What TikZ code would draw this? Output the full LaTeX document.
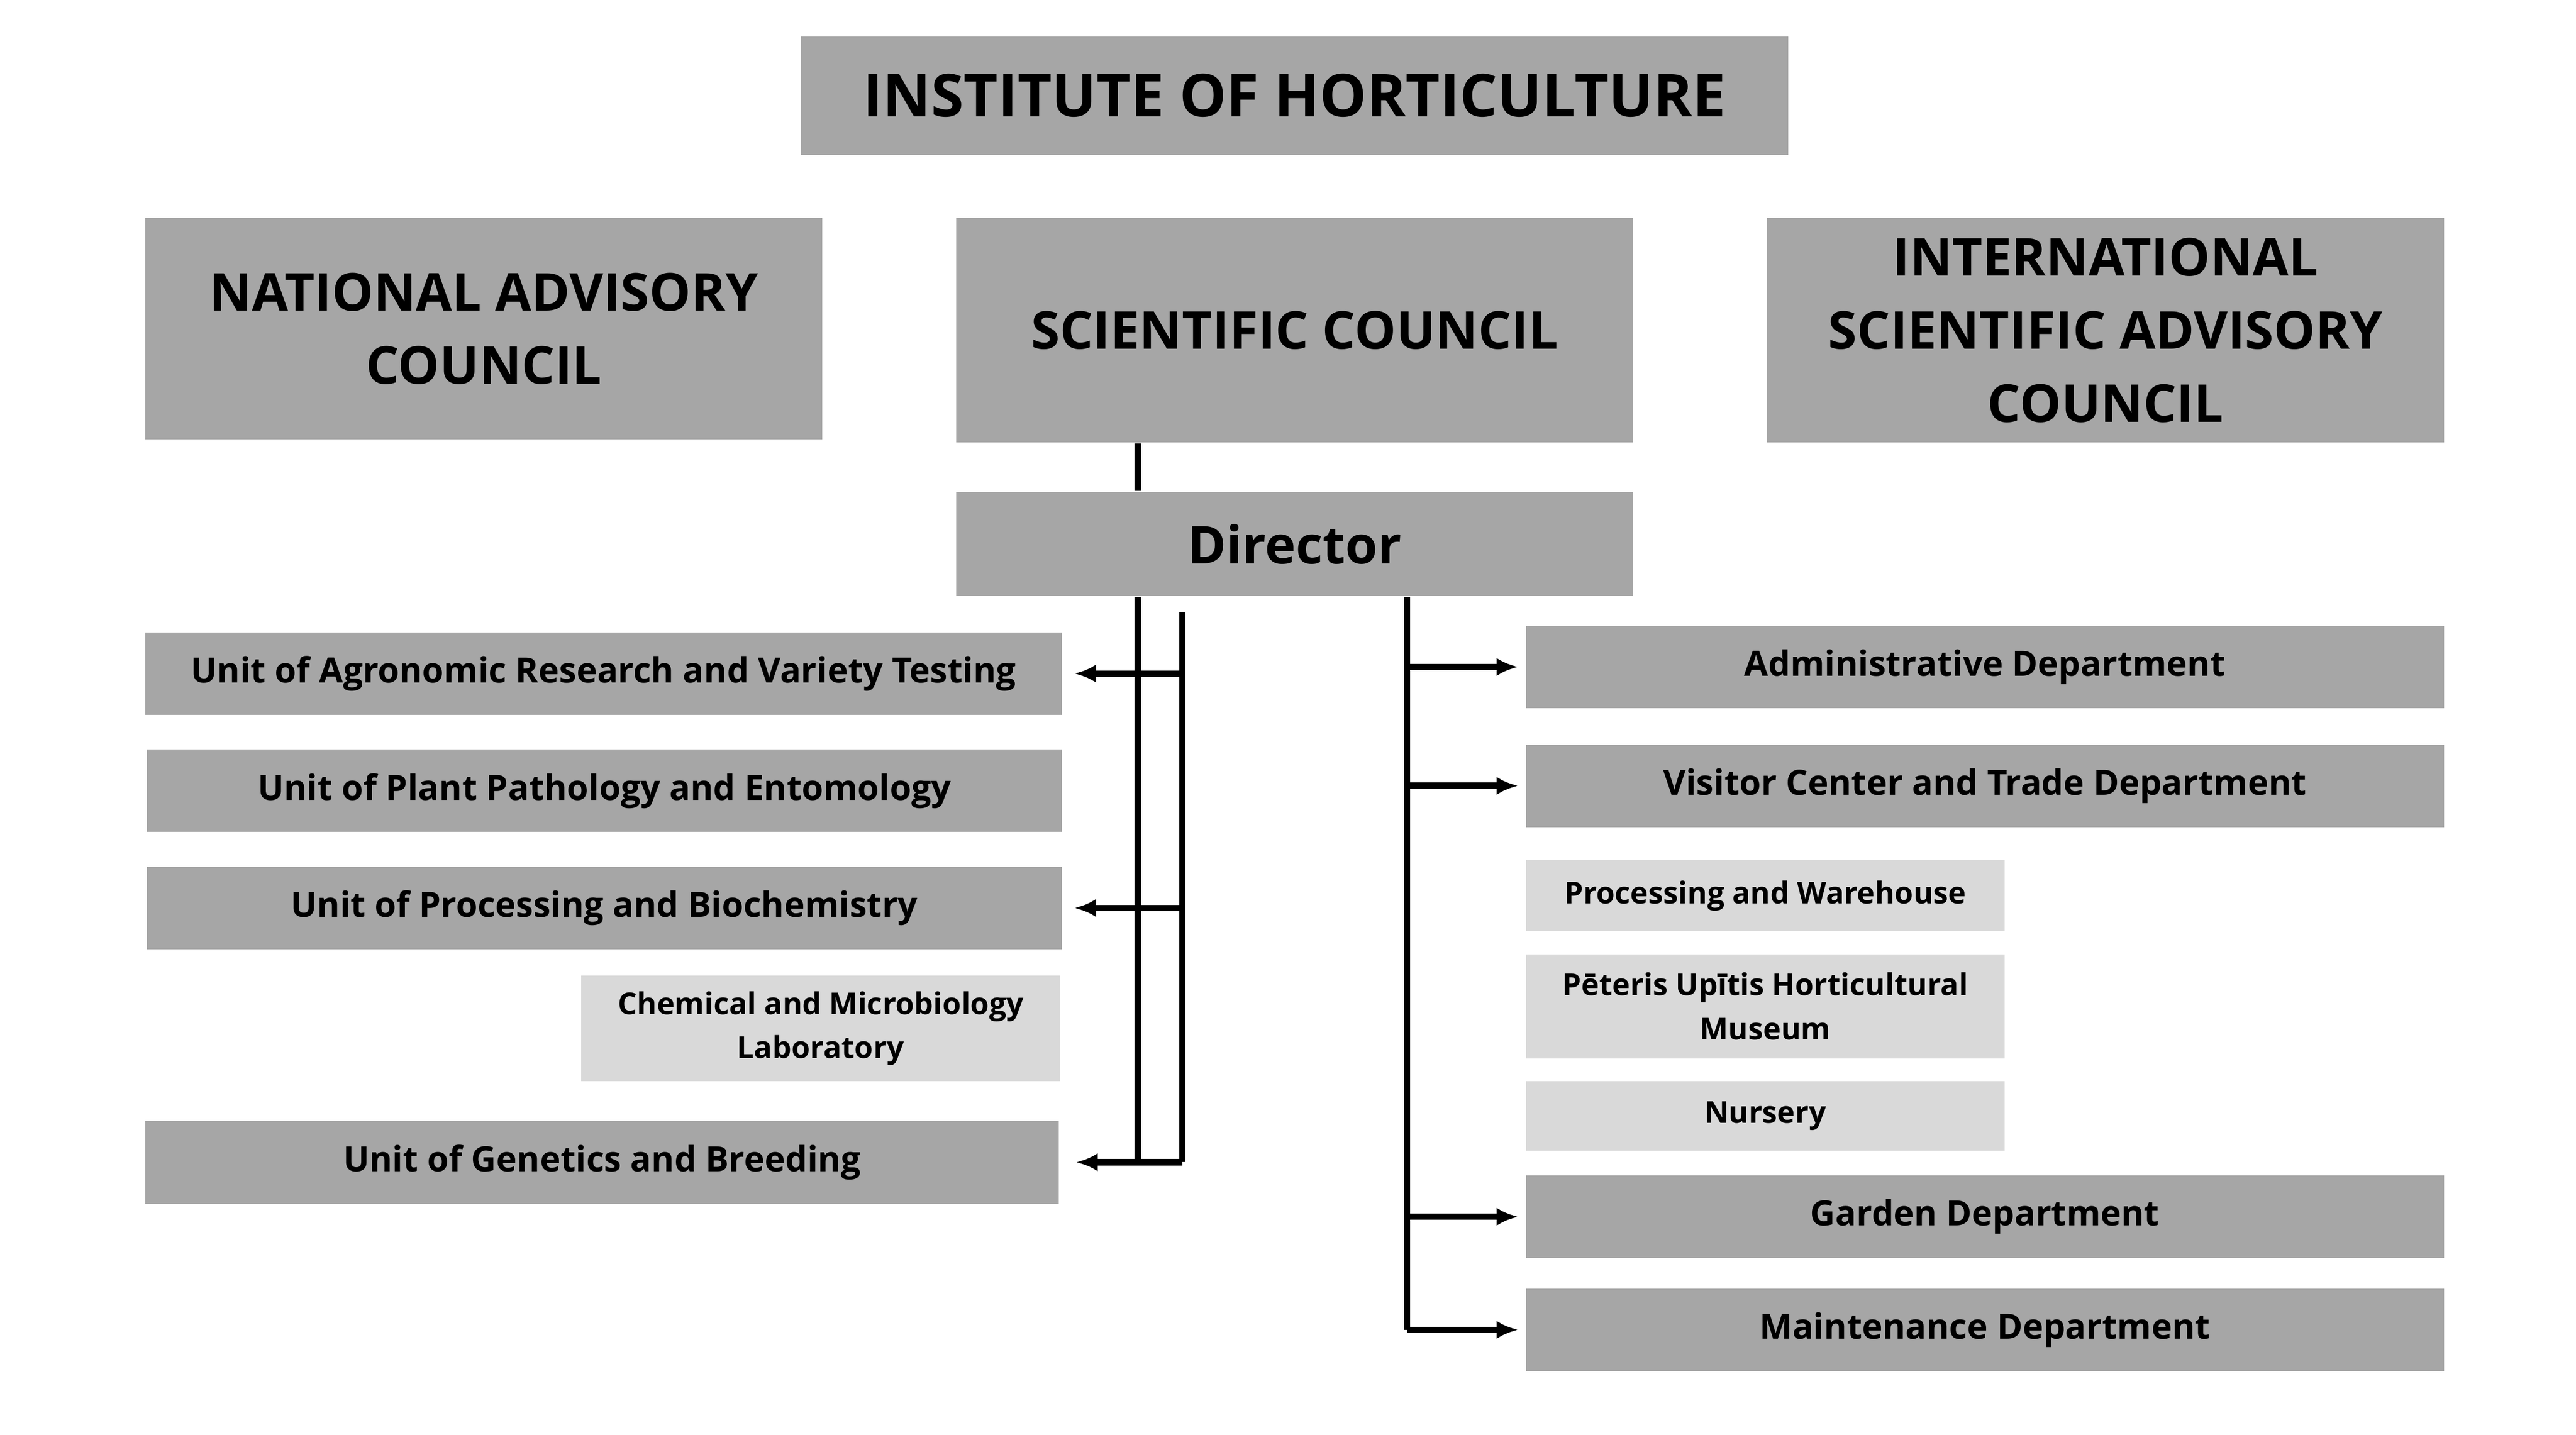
\documentclass[tikz,border=0pt]{standalone}
\usepackage{fontspec}
\setmainfont{Open Sans}
\usetikzlibrary{arrows.meta}
\definecolor{boxdark}{HTML}{A6A6A6}
\definecolor{boxlight}{HTML}{D9D9D9}
\tikzset{
  darkbox/.style={fill=boxdark, inner sep=0pt, align=center, font=\bfseries},
  lightbox/.style={fill=boxlight, inner sep=0pt, align=center, font=\bfseries\fontsize{5.2}{7.6}\selectfont},
  unit/.style={darkbox, minimum height=5mm, font=\bfseries\fontsize{6}{7}\selectfont},
  council/.style={darkbox, minimum width=41mm, font=\bfseries\fontsize{9}{12.6}\selectfont},
  link/.style={line width=1.1pt},
  arrow/.style={link, -{Latex[length=1.3mm,width=1.1mm]}}
}
\begin{document}
\begin{tikzpicture}
\useasboundingbox (0,0) rectangle (15.6,-8.69);
\node[darkbox, minimum width=59.8mm, minimum height=7.2mm, font=\bfseries\fontsize{10.2}{12}\selectfont] (inst) at (7.84,-0.58) {INSTITUTE OF HORTICULTURE};
\node[council, minimum height=13.4mm] (nat) at (2.93,-1.99) {NATIONAL ADVISORY\\COUNCIL};
\node[council, minimum height=13.6mm] (sci) at (7.84,-2.00) {SCIENTIFIC COUNCIL};
\node[council, minimum height=13.6mm] (intl) at (12.75,-2.00) {INTERNATIONAL\\SCIENTIFIC ADVISORY\\COUNCIL};
\node[council, minimum height=6.3mm] (dir) at (7.84,-3.295) {Director};
% left units
\node[unit, minimum width=55.5mm] (agro) at (3.655,-4.08) {Unit of Agronomic Research and Variety Testing};
\node[unit, minimum width=55.4mm] (plant) at (3.66,-4.79) {Unit of Plant Pathology and Entomology};
\node[unit, minimum width=55.4mm] (proc) at (3.66,-5.50) {Unit of Processing and Biochemistry};
\node[lightbox, minimum width=29mm, minimum height=6.4mm] (chem) at (4.97,-6.23) {Chemical and Microbiology\\Laboratory};
\node[unit, minimum width=55.3mm] (gen) at (3.645,-7.04) {Unit of Genetics and Breeding};
% right departments
\node[unit, minimum width=55.6mm] (adm) at (12.02,-4.04) {Administrative Department};
\node[unit, minimum width=55.6mm] (vis) at (12.02,-4.76) {Visitor Center and Trade Department};
\node[lightbox, minimum width=29mm, minimum height=4.3mm] (ware) at (10.69,-5.425) {Processing and Warehouse};
\node[lightbox, minimum width=29mm, minimum height=6.3mm] (mus) at (10.69,-6.095) {Pēteris Upītis Horticultural\\Museum};
\node[lightbox, minimum width=29mm, minimum height=4.2mm] (nur) at (10.69,-6.76) {Nursery};
\node[unit, minimum width=55.6mm] (gard) at (12.02,-7.37) {Garden Department};
\node[unit, minimum width=55.6mm] (maint) at (12.02,-8.055) {Maintenance Department};
% connectors
\coordinate (lt) at (6.89,0);
\coordinate (lb) at (7.16,-3.71);
\coordinate (rt) at (8.52,0);
\draw[link] (lt |- sci.south) -- (lt |- dir.north);
\draw[link] (lt |- dir.south) -- (lt |- gen);
\draw[link] (lb) -- (lb |- gen);
\draw[arrow, shorten >=0.7mm] (lb |- agro) -- (agro.east);
\draw[arrow, shorten >=0.7mm] (lb |- proc) -- (proc.east);
\draw[arrow, shorten >=1mm] (lb |- gen) -- (gen.east);
\draw[link] (rt |- dir.south) -- (rt |- maint);
\draw[arrow, shorten >=0.4mm] (rt |- adm) -- (adm.west);
\draw[arrow, shorten >=0.4mm] (rt |- vis) -- (vis.west);
\draw[arrow, shorten >=0.4mm] (rt |- gard) -- (gard.west);
\draw[arrow, shorten >=0.4mm] (rt |- maint) -- (maint.west);
\end{tikzpicture}
\end{document}
